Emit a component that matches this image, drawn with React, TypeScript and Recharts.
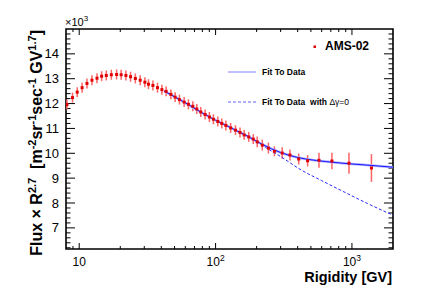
import {
  ComposedChart,
  ErrorBar,
  Line,
  ReferenceArea,
  ReferenceLine,
  Scatter,
  XAxis,
  YAxis,
} from "recharts";

// AMS-02 proton flux x R^2.7 (units of 10^3)
const rigidity = [
  8.13, 8.93, 9.67, 10.5, 11.4, 12.4, 13.5, 14.6, 15.8, 17.2,
  18.8, 20.3, 22.0, 23.8, 25.8, 28.0, 30.3, 32.2, 34.7, 37.5,
  40.4, 43.4, 47.0, 50.5, 54.3, 58.8, 63.2, 68.1, 72.8, 77.9,
  83.8, 90.1, 96.4, 103.8, 111, 119, 129, 140, 151, 162,
  175, 189, 202, 220, 244, 270, 308, 351, 407, 473,
  573, 713, 951, 1390,
];
const flux = [
  11.96, 12.24, 12.46, 12.64, 12.81, 12.94, 13.02, 13.1, 13.13, 13.16,
  13.17, 13.16, 13.13, 13.08, 13.01, 12.94, 12.86, 12.78, 12.73, 12.64,
  12.56, 12.49, 12.37, 12.26, 12.16, 12.06, 11.97, 11.89, 11.78, 11.66,
  11.56, 11.46, 11.37, 11.28, 11.2, 11.12, 11.02, 10.93, 10.84, 10.74,
  10.66, 10.57, 10.46, 10.33, 10.21, 10.08, 10.01, 9.93, 9.77, 9.7,
  9.72, 9.69, 9.6, 9.41,
];
const fluxErr = [
  0.2, 0.2, 0.2, 0.2, 0.2, 0.2, 0.2, 0.2, 0.2, 0.2,
  0.2, 0.2, 0.2, 0.2, 0.2, 0.2, 0.2, 0.2, 0.2, 0.2,
  0.2, 0.2, 0.2, 0.2, 0.2, 0.2, 0.2, 0.2, 0.2, 0.2,
  0.2, 0.2, 0.2, 0.2, 0.2, 0.2, 0.2, 0.2, 0.2, 0.2,
  0.2, 0.2, 0.22, 0.22, 0.22, 0.2, 0.23, 0.22, 0.22, 0.23,
  0.3, 0.33, 0.42, 0.56,
];

const fitR = [42, 60, 80, 100, 130, 170, 220, 300, 400, 550, 750, 1000, 1400, 2000];
const fitFlux = [12.5, 12.03, 11.62, 11.33, 11.02, 10.7, 10.36, 10.03, 9.83, 9.71, 9.63, 9.57, 9.51, 9.44];

const noBreakR = [42, 60, 80, 100, 130, 170, 220, 300, 424, 600, 910, 1300, 2000];
const noBreakFlux = [12.5, 12.03, 11.62, 11.33, 11.02, 10.68, 10.31, 9.87, 9.33, 8.9, 8.4, 7.98, 7.51];

const xTicks = [10, 100, 1000];
const xMinor = [9, 20, 30, 40, 50, 60, 70, 80, 90, 200, 300, 400, 500, 600, 700, 800, 900];
const yTicks = [7, 8, 9, 10, 11, 12, 13, 14];

const X_MIN = 8;
const X_MAX = 2000;
const Y_MIN = 6.15;
const Y_MAX = 15;
const PLOT_W = 327;
const PLOT_H = 220;

const yMinor: number[] = [];
for (let v = 6.2; v < Y_MAX - 0.01; v += 0.2) {
  const r = Math.round(v * 10) / 10;
  if (!yTicks.includes(r)) yMinor.push(r);
}

const points = rigidity.map((x, i) => ({ x, y: flux[i], err: fluxErr[i] }));
const fitData = fitR.map((x, i) => ({ x, y: fitFlux[i] }));
const noBreakData = noBreakR.map((x, i) => ({ x, y: noBreakFlux[i] }));

// tick lengths in px converted to data units
const xMul = (px: number) => Math.pow(10, (px * Math.log10(X_MAX / X_MIN)) / PLOT_W);
const yLen = (px: number) => (px * (Y_MAX - Y_MIN)) / PLOT_H;

const FONT = "'Liberation Sans', Arial, sans-serif";

const XTick = (props: any) => {
  const { x, y, payload } = props;
  const exp = Math.round(Math.log10(payload.value));
  return (
    <text x={x} y={y + 17} textAnchor="middle" fontSize={12} fill="#000" fontFamily={FONT}>
      10
      {exp > 1 && (
        <tspan dy={-5} fontSize={8.5}>
          {exp}
        </tspan>
      )}
    </text>
  );
};

const Point = (props: any) => (
  <rect x={props.cx - 1.5} y={props.cy - 1.5} width={3} height={3} fill="#e00000" />
);

const tickLines = () => {
  const out: React.ReactNode[] = [];
  const xt = (v: number, len: number, key: string) => {
    out.push(
      <ReferenceLine key={key + "b"} segment={[{ x: v, y: Y_MIN }, { x: v, y: Y_MIN + yLen(len) }]} stroke="#000" strokeWidth={1} ifOverflow="visible" />,
      <ReferenceLine key={key + "t"} segment={[{ x: v, y: Y_MAX }, { x: v, y: Y_MAX - yLen(len) }]} stroke="#000" strokeWidth={1} ifOverflow="visible" />,
    );
  };
  const yt = (v: number, len: number, key: string) => {
    out.push(
      <ReferenceLine key={key + "l"} segment={[{ x: X_MIN, y: v }, { x: X_MIN * xMul(len), y: v }]} stroke="#000" strokeWidth={1} ifOverflow="visible" />,
      <ReferenceLine key={key + "r"} segment={[{ x: X_MAX, y: v }, { x: X_MAX / xMul(len), y: v }]} stroke="#000" strokeWidth={1} ifOverflow="visible" />,
    );
  };
  xTicks.forEach((v) => xt(v, 6, "xM" + v));
  xMinor.forEach((v) => xt(v, 3, "xm" + v));
  yTicks.forEach((v) => yt(v, 9, "yM" + v));
  yMinor.forEach((v) => yt(v, 4.5, "ym" + v));
  return out;
};

export default function App() {
  return (
    <div style={{ position: "absolute", left: 0, top: 0, width: 436, height: 295, background: "#fff", fontFamily: FONT }}>
      <ComposedChart width={436} height={295} margin={{ top: 29, right: 43, left: 0, bottom: 0 }}>
        <XAxis
          dataKey="x"
          type="number"
          scale="log"
          domain={[X_MIN, X_MAX]}
          allowDataOverflow
          ticks={xTicks}
          height={46}
          axisLine={false}
          tickLine={false}
          tickSize={0}
          tickMargin={0}
          tick={<XTick />}
        />
        <YAxis
          dataKey="y"
          type="number"
          domain={[Y_MIN, Y_MAX]}
          allowDataOverflow
          ticks={yTicks}
          width={66}
          axisLine={false}
          tickLine={false}
          tickSize={0}
          tickMargin={7}
          tick={{ fill: "#000", fontSize: 13, fontFamily: FONT }}
        />
        <ReferenceArea x1={X_MIN} x2={X_MAX} y1={Y_MIN} y2={Y_MAX} fill="none" stroke="#000" strokeWidth={1.6} ifOverflow="visible" />
        {tickLines()}
        <Scatter data={points} dataKey="y" shape={<Point />} isAnimationActive={false}>
          <ErrorBar dataKey="err" direction="y" width={0} stroke="#ff6464" strokeWidth={1.5} />
        </Scatter>
        <Line data={noBreakData} dataKey="y" type="monotone" stroke="#2b2bff" strokeWidth={1} strokeDasharray="3 2" dot={false} isAnimationActive={false} />
        <Line data={fitData} dataKey="y" type="monotone" stroke="#b4b4ff" strokeWidth={2.5} dot={false} isAnimationActive={false} />
        <Line data={fitData} dataKey="y" type="monotone" stroke="#1414ff" strokeWidth={1} dot={false} isAnimationActive={false} />
      </ComposedChart>

      <svg width={436} height={295} style={{ position: "absolute", left: 0, top: 0, pointerEvents: "none" }} fontFamily={FONT}>
        <text x={65} y={26} fontSize={11} fill="#000">
          ×10
          <tspan dy={-5} fontSize={8}>3</tspan>
        </text>
        <text transform="rotate(-90)" x={-30} y={42} textAnchor="end" fontSize={16} fontWeight="bold" fill="#000">
          Flux × R<tspan dy={-6} fontSize={11}>2.7</tspan>
          <tspan dy={6}>{"\u00a0\u00a0[m"}</tspan>
          <tspan dy={-6} fontSize={11}>-2</tspan>
          <tspan dy={6}>sr</tspan>
          <tspan dy={-6} fontSize={11}>-1</tspan>
          <tspan dy={6}>sec</tspan>
          <tspan dy={-6} fontSize={11}>-1</tspan>
          <tspan dy={6}>{"\u00a0GV"}</tspan>
          <tspan dy={-6} fontSize={11}>1.7</tspan>
          <tspan dy={6}>]</tspan>
        </text>
        <text x={392} y={282} textAnchor="end" fontSize={14.5} fontWeight="bold" fill="#000">
          Rigidity [GV]
        </text>

        <rect x={313.5} y={45.5} width={2.5} height={2.5} fill="#e00000" />
        <text x={325} y={50} fontSize={12} fontWeight="bold" fill="#000">AMS-02</text>
        <line x1={228} y1={72} x2={256} y2={72} stroke="#8080ff" strokeWidth={1} />
        <text x={262} y={75} fontSize={8.5} fontWeight="bold" fill="#000">Fit To Data</text>
        <line x1={228} y1={102} x2={256} y2={102} stroke="#6060ff" strokeWidth={1} strokeDasharray="3 2" />
        <text x={262} y={105} fontSize={8.5} fontWeight="bold" fill="#000">
          Fit To Data{"\u00a0\u00a0"}with <tspan fontWeight="normal">Δγ=0</tspan>
        </text>
      </svg>
    </div>
  );
}
